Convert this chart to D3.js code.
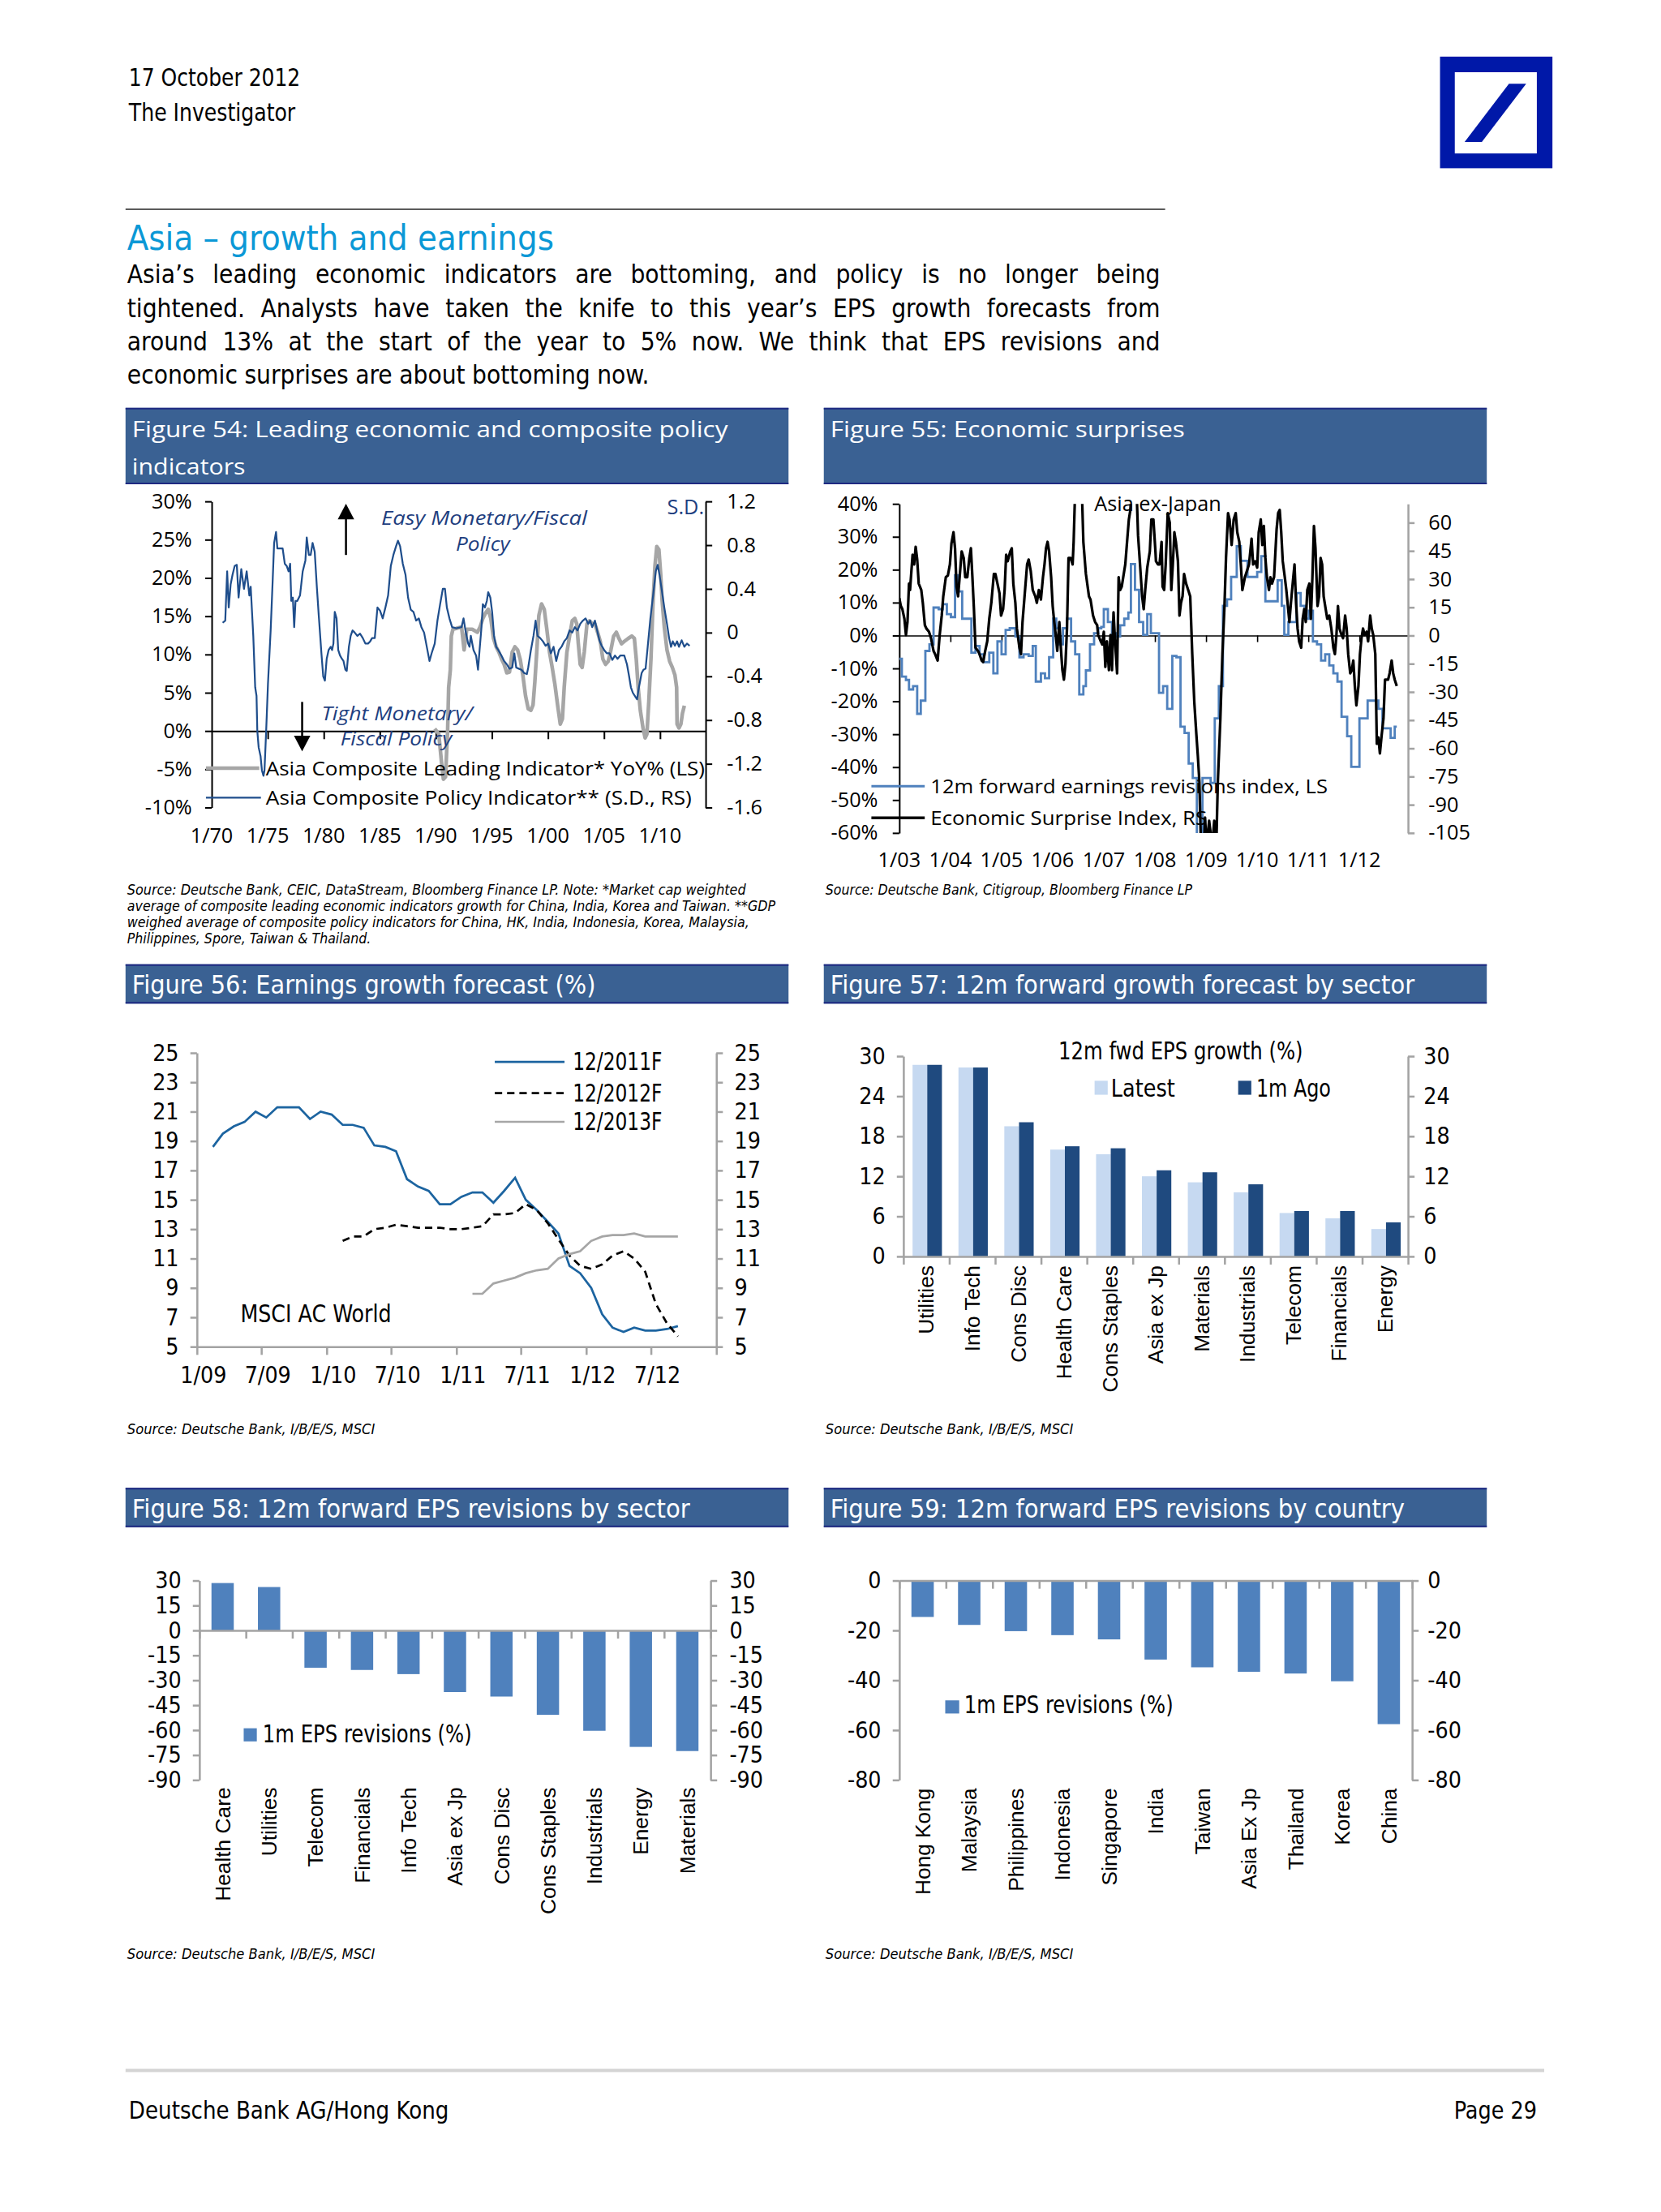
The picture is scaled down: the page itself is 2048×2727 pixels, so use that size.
<!DOCTYPE html>
<html lang="en">
<head>
<meta charset="UTF-8">
<title>Asia – growth and earnings</title>
<script src="https://d3js.org/d3.v7.min.js"></script>
<style>
  body { margin: 0; background: #fff; }
  svg { display: block; }
</style>
</head>
<body>
<svg id="page" width="2048" height="2727"></svg>
<script>
// ---------- Figure 54: leading indicator (grey, YoY %, LS) and policy indicator (navy, S.D., RS)
const policyIndicator = [[1970.98,0.09],[1971.21,0.11],[1971.38,0.56],[1971.52,0.23],[1971.69,0.44],[1971.86,0.53],[1972.05,0.61],[1972.24,0.62],[1972.40,0.32],[1972.64,0.58],[1972.88,0.40],[1973.12,0.56],[1973.36,0.34],[1973.48,0.42],[1973.71,-0.03],[1973.88,-0.50],[1974.00,-0.58],[1974.07,-0.90],[1974.19,-1.05],[1974.36,-1.13],[1974.48,-1.26],[1974.62,-1.31],[1974.71,-1.26],[1974.86,-0.90],[1975.02,-0.47],[1975.26,0.02],[1975.45,0.50],[1975.57,0.82],[1975.74,0.92],[1975.86,0.77],[1976.10,0.77],[1976.33,0.77],[1976.52,0.63],[1976.69,0.61],[1976.86,0.56],[1977.00,0.63],[1977.10,0.29],[1977.24,0.32],[1977.36,0.05],[1977.48,0.29],[1977.64,0.29],[1977.88,0.34],[1978.12,0.56],[1978.36,0.66],[1978.48,0.87],[1978.67,0.71],[1978.83,0.71],[1979.00,0.82],[1979.19,0.74],[1979.38,0.42],[1979.55,0.16],[1979.79,-0.19],[1979.95,-0.40],[1980.10,-0.44],[1980.26,-0.24],[1980.43,-0.16],[1980.62,-0.13],[1980.74,-0.16],[1980.86,-0.10],[1980.98,0.19],[1981.14,0.13],[1981.29,-0.16],[1981.45,-0.21],[1981.62,-0.24],[1981.76,-0.26],[1981.93,-0.34],[1982.05,-0.35],[1982.24,-0.13],[1982.40,-0.03],[1982.57,0.02],[1982.76,0.00],[1983.00,-0.03],[1983.24,-0.01],[1983.48,-0.05],[1983.71,-0.10],[1983.95,-0.10],[1984.14,-0.08],[1984.31,-0.05],[1984.55,-0.05],[1984.79,0.23],[1985.02,0.20],[1985.26,0.13],[1985.50,0.23],[1985.74,0.34],[1985.98,0.61],[1986.21,0.71],[1986.45,0.79],[1986.62,0.84],[1986.81,0.79],[1987.05,0.63],[1987.29,0.53],[1987.52,0.32],[1987.76,0.21],[1988.00,0.19],[1988.24,0.11],[1988.48,0.13],[1988.71,0.05],[1988.95,0.00],[1989.19,-0.13],[1989.43,-0.26],[1989.62,-0.19],[1989.90,-0.10],[1990.14,0.11],[1990.38,0.26],[1990.62,0.40],[1990.81,0.40],[1990.98,0.23],[1991.21,0.13],[1991.45,0.05],[1991.81,0.04],[1992.29,0.05],[1992.47,0.13],[1992.64,0.02],[1992.88,-0.10],[1993.00,-0.13],[1993.12,-0.03],[1993.36,-0.16],[1993.59,-0.21],[1993.76,-0.34],[1993.90,-0.16],[1994.07,0.05],[1994.19,0.26],[1994.38,0.23],[1994.55,0.29],[1994.67,0.37],[1994.86,0.32],[1995.02,0.19],[1995.19,-0.03],[1995.38,-0.13],[1995.57,-0.16],[1995.74,-0.19],[1995.90,-0.22],[1996.09,-0.26],[1996.33,-0.29],[1996.57,-0.33],[1996.81,-0.32],[1997.00,-0.19],[1997.17,-0.32],[1997.40,-0.33],[1997.64,-0.34],[1997.88,-0.37],[1998.12,-0.38],[1998.24,-0.32],[1998.48,-0.16],[1998.71,-0.03],[1998.90,0.11],[1999.07,-0.03],[1999.31,-0.05],[1999.55,-0.08],[1999.79,-0.12],[2000.02,-0.10],[2000.26,-0.19],[2000.50,-0.13],[2000.74,-0.26],[2000.98,-0.16],[2001.21,-0.13],[2001.45,-0.08],[2001.69,-0.05],[2001.93,0.02],[2002.17,0.00],[2002.40,0.05],[2002.64,0.02],[2002.88,0.08],[2003.12,0.11],[2003.36,0.13],[2003.59,0.08],[2003.76,0.11],[2003.95,0.05],[2004.19,0.11],[2004.43,0.00],[2004.62,-0.08],[2004.79,-0.12],[2005.02,-0.16],[2005.26,-0.19],[2005.50,-0.19],[2005.74,-0.25],[2005.98,-0.21],[2006.21,-0.24],[2006.45,-0.21],[2006.81,-0.21],[2007.05,-0.29],[2007.24,-0.40],[2007.40,-0.50],[2007.57,-0.55],[2007.76,-0.58],[2007.95,-0.61],[2008.12,-0.50],[2008.36,-0.37],[2008.52,-0.34],[2008.71,-0.33],[2008.90,-0.13],[2009.14,0.13],[2009.38,0.34],[2009.62,0.56],[2009.79,0.62],[2009.95,0.53],[2010.14,0.40],[2010.38,0.23],[2010.62,0.08],[2010.81,-0.05],[2010.98,-0.13],[2011.14,-0.08],[2011.33,-0.12],[2011.52,-0.08],[2011.69,-0.13],[2011.93,-0.07],[2012.17,-0.13],[2012.40,-0.10],[2012.64,-0.12]];
const leadingIndicator = [[1989.90,0.3],[1990.26,-0.4],[1990.50,-4.0],[1990.67,-6.3],[1990.86,-6.0],[1991.05,0.1],[1991.14,5.7],[1991.29,8.0],[1991.38,12.4],[1991.52,13.3],[1991.81,13.4],[1992.29,13.6],[1992.52,10.6],[1992.76,13.3],[1993.24,13.3],[1993.71,12.9],[1993.95,13.6],[1994.19,14.7],[1994.43,15.4],[1994.67,15.9],[1994.90,14.7],[1995.14,12.1],[1995.38,11.0],[1995.62,10.3],[1995.86,9.4],[1996.09,8.7],[1996.33,7.6],[1996.57,7.7],[1996.81,10.3],[1997.05,11.0],[1997.29,10.6],[1997.52,9.4],[1997.76,7.3],[1998.00,4.6],[1998.24,2.9],[1998.48,2.7],[1998.67,3.4],[1998.83,6.4],[1999.00,10.3],[1999.19,15.1],[1999.43,16.6],[1999.67,15.9],[1999.90,13.3],[2000.14,10.3],[2000.38,8.3],[2000.62,6.1],[2000.86,3.4],[2001.10,0.9],[2001.29,1.6],[2001.45,5.7],[2001.69,10.3],[2001.93,12.4],[2002.17,14.4],[2002.40,14.7],[2002.57,14.0],[2002.71,11.4],[2002.88,8.7],[2003.05,8.3],[2003.24,10.3],[2003.48,14.0],[2003.71,14.4],[2003.95,14.0],[2004.19,14.0],[2004.43,12.9],[2004.67,11.7],[2004.90,9.4],[2005.14,8.7],[2005.38,9.1],[2005.62,10.6],[2005.86,12.4],[2006.10,12.9],[2006.33,12.1],[2006.57,11.4],[2006.81,11.7],[2007.17,12.1],[2007.48,12.4],[2007.71,12.1],[2007.88,9.4],[2008.05,5.7],[2008.24,2.7],[2008.48,0.4],[2008.67,-0.9],[2008.83,-0.4],[2009.00,3.9],[2009.19,9.4],[2009.38,17.0],[2009.55,21.6],[2009.71,24.1],[2009.90,23.7],[2010.05,20.7],[2010.19,17.0],[2010.38,13.6],[2010.62,10.6],[2010.86,9.1],[2011.10,8.3],[2011.33,7.3],[2011.48,5.7],[2011.52,0.9],[2011.69,0.4],[2011.86,0.9],[2012.00,2.3],[2012.17,3.3]];
const pctTicks54 = [-10, -5, 0, 5, 10, 15, 20, 25, 30];
const sdTicks54 = [-1.6, -1.2, -0.8, -0.4, 0, 0.4, 0.8, 1.2];
const sdLabels54 = ["-1.6", "-1.2", "-0.8", "-0.4", "0", "0.4", "0.8", "1.2"];
const yearTicks54 = [1970, 1975, 1980, 1985, 1990, 1995, 2000, 2005, 2010];
const yearLabels54 = ["1/70", "1/75", "1/80", "1/85", "1/90", "1/95", "1/00", "1/05", "1/10"];

// ---------- Figure 55: earnings revisions (blue, step, LS %) and economic surprise (black, RS)
const revisionsIdx = [[2003.00,-7.1],[2003.05,-12.5],[2003.13,-13.5],[2003.19,-16.4],[2003.27,-15.4],[2003.35,-23.8],[2003.42,-19.8],[2003.51,-4.7],[2003.59,-2.7],[2003.67,8.5],[2003.77,8.0],[2003.85,9.5],[2003.93,6.5],[2004.01,5.6],[2004.09,18.3],[2004.15,13.4],[2004.23,5.1],[2004.41,-5.2],[2004.49,-3.2],[2004.57,-5.7],[2004.65,-8.1],[2004.76,-5.2],[2004.84,-11.5],[2004.92,-1.8],[2005.00,-5.7],[2005.08,1.7],[2005.16,2.2],[2005.27,-0.3],[2005.35,-6.6],[2005.43,-5.7],[2005.53,-6.2],[2005.61,-3.2],[2005.67,-14.0],[2005.77,-11.5],[2005.85,-13.0],[2005.93,-6.6],[2006.01,5.1],[2006.07,2.2],[2006.12,-2.7],[2006.20,2.2],[2006.28,5.1],[2006.36,-1.8],[2006.44,-5.7],[2006.52,-17.9],[2006.60,-15.4],[2006.65,-10.6],[2006.73,-2.7],[2006.81,0.7],[2006.89,2.2],[2006.95,2.6],[2007.00,8.0],[2007.08,4.1],[2007.16,0.7],[2007.24,-0.3],[2007.32,3.1],[2007.40,5.1],[2007.48,7.0],[2007.53,21.7],[2007.61,13.9],[2007.69,4.1],[2007.77,0.2],[2007.85,6.5],[2007.92,0.7],[2008.08,-17.4],[2008.16,-15.4],[2008.24,-22.3],[2008.34,-6.2],[2008.42,-6.6],[2008.50,-27.7],[2008.58,-29.6],[2008.66,-38.9],[2008.74,-43.3],[2008.82,-62],[2008.93,-43.3],[2009.09,-44.8],[2009.17,-25.2],[2009.25,-15.4],[2009.33,9.0],[2009.41,11.0],[2009.49,17.8],[2009.60,27.1],[2009.68,22.7],[2009.81,17.8],[2010.00,19.3],[2010.08,24.1],[2010.16,10.4],[2010.40,16.8],[2010.48,9.0],[2010.53,0.2],[2010.61,4.1],[2010.77,12.9],[2010.85,9.0],[2010.93,5.1],[2011.01,7.5],[2011.09,-1.8],[2011.17,-2.7],[2011.25,-7.6],[2011.33,-5.7],[2011.41,-9.1],[2011.49,-11.5],[2011.57,-14.0],[2011.65,-24.7],[2011.76,-30.6],[2011.84,-39.9],[2012.00,-25.2],[2012.16,-19.8],[2012.37,-22.3],[2012.45,-28.2],[2012.61,-31.1],[2012.69,-27.7],[2012.73,-27.7]];
const surpriseIdx = [[2003.00,19.9],[2003.03,15.7],[2003.06,14.0],[2003.10,8.9],[2003.13,0.3],[2003.16,7.2],[2003.19,27.6],[2003.21,24.2],[2003.26,43.0],[2003.29,37.8],[2003.32,47.2],[2003.35,40.4],[2003.38,27.6],[2003.43,24.2],[2003.46,17.4],[2003.50,5.5],[2003.53,3.7],[2003.58,2.0],[2003.62,-1.4],[2003.67,-8.2],[2003.70,-9.9],[2003.75,-13.3],[2003.79,0.3],[2003.83,10.6],[2003.86,20.8],[2003.91,31.0],[2003.95,31.9],[2003.99,37.8],[2004.02,48.9],[2004.06,54.9],[2004.09,46.4],[2004.12,25.9],[2004.15,20.8],[2004.18,31.0],[2004.22,44.7],[2004.26,41.2],[2004.29,31.0],[2004.33,31.0],[2004.37,41.2],[2004.40,46.4],[2004.43,31.0],[2004.46,14.0],[2004.49,-6.5],[2004.54,-8.2],[2004.57,-9.9],[2004.61,-13.3],[2004.64,-14.1],[2004.68,-8.2],[2004.72,-3.1],[2004.76,8.9],[2004.80,17.4],[2004.85,32.7],[2004.88,32.7],[2004.92,27.6],[2004.96,22.5],[2004.99,10.6],[2005.03,14.0],[2005.06,24.2],[2005.09,43.0],[2005.12,39.5],[2005.17,44.7],[2005.20,46.4],[2005.23,27.6],[2005.27,17.4],[2005.30,3.7],[2005.35,-6.5],[2005.38,-9.9],[2005.41,7.2],[2005.45,20.8],[2005.50,37.8],[2005.53,40.4],[2005.57,34.4],[2005.61,24.2],[2005.66,20.8],[2005.69,17.4],[2005.73,24.2],[2005.77,19.1],[2005.81,31.0],[2005.84,37.8],[2005.87,46.4],[2005.90,49.8],[2005.93,44.7],[2005.97,31.0],[2006.00,15.7],[2006.03,7.2],[2006.06,0.3],[2006.09,-8.2],[2006.13,7.2],[2006.16,-6.5],[2006.19,-18.4],[2006.22,-23.5],[2006.25,-15.0],[2006.28,3.7],[2006.31,41.2],[2006.35,41.2],[2006.39,37.8],[2006.41,49.8],[2006.44,78],[2006.49,78],[2006.57,78],[2006.60,49.8],[2006.65,32.7],[2006.71,20.8],[2006.74,19.1],[2006.79,10.6],[2006.83,7.2],[2006.87,5.5],[2006.89,0.3],[2006.94,-3.1],[2006.97,-4.8],[2007.00,2.0],[2007.03,-16.7],[2007.06,-3.1],[2007.10,-18.4],[2007.13,0.3],[2007.16,-18.4],[2007.19,12.3],[2007.22,-3.1],[2007.26,-20.1],[2007.29,31.0],[2007.32,24.2],[2007.35,25.9],[2007.38,31.0],[2007.42,37.8],[2007.45,48.1],[2007.49,61.7],[2007.52,66.8],[2007.54,78],[2007.59,78],[2007.64,78],[2007.67,53.2],[2007.70,41.2],[2007.75,20.8],[2007.78,14.0],[2007.81,24.2],[2007.85,36.1],[2007.90,44.7],[2007.93,61.7],[2007.97,61.7],[2008.01,44.7],[2008.02,39.5],[2008.06,37.8],[2008.09,37.8],[2008.13,49.8],[2008.15,25.9],[2008.18,24.2],[2008.21,37.8],[2008.25,65.1],[2008.29,60.0],[2008.32,24.2],[2008.35,37.8],[2008.38,54.9],[2008.41,49.8],[2008.45,39.5],[2008.48,10.6],[2008.51,17.4],[2008.54,20.8],[2008.57,32.7],[2008.61,27.6],[2008.65,24.2],[2008.69,20.8],[2008.73,-9.9],[2008.77,-35.5],[2008.81,-52.5],[2008.84,-64.4],[2008.87,-78.1],[2008.90,-112],[2008.96,-112],[2008.98,-96.8],[2009.01,-112],[2009.06,-98.5],[2009.12,-112],[2009.16,-98.5],[2009.20,-112],[2009.23,-78.1],[2009.28,-44.0],[2009.32,-9.9],[2009.36,15.7],[2009.39,41.2],[2009.43,65.1],[2009.46,61.7],[2009.50,48.1],[2009.54,61.7],[2009.58,65.1],[2009.61,54.9],[2009.65,49.8],[2009.68,37.8],[2009.71,24.2],[2009.76,31.0],[2009.80,34.4],[2009.84,37.8],[2009.89,51.5],[2009.92,37.8],[2009.96,39.5],[2010.00,36.1],[2010.03,54.9],[2010.07,61.7],[2010.10,48.1],[2010.13,58.3],[2010.16,41.2],[2010.19,31.0],[2010.23,24.2],[2010.26,31.0],[2010.29,27.6],[2010.33,31.0],[2010.38,56.6],[2010.41,65.1],[2010.44,66.8],[2010.47,54.9],[2010.50,39.5],[2010.54,31.0],[2010.57,24.2],[2010.60,15.7],[2010.63,7.2],[2010.66,17.4],[2010.70,29.3],[2010.73,37.8],[2010.76,17.4],[2010.79,3.7],[2010.82,-3.1],[2010.86,-6.5],[2010.89,8.9],[2010.92,14.0],[2010.95,7.2],[2010.98,24.2],[2011.02,27.6],[2011.05,8.9],[2011.08,31.0],[2011.11,58.3],[2011.14,46.4],[2011.18,15.7],[2011.21,20.8],[2011.24,41.2],[2011.27,37.8],[2011.30,20.8],[2011.34,14.0],[2011.37,8.9],[2011.41,10.6],[2011.45,3.7],[2011.49,-6.5],[2011.52,-9.9],[2011.55,0.3],[2011.58,15.7],[2011.61,3.7],[2011.65,0.3],[2011.68,-1.4],[2011.72,10.6],[2011.75,3.7],[2011.78,-9.9],[2011.82,-20.1],[2011.85,-18.4],[2011.88,-13.3],[2011.91,-26.9],[2011.94,-37.2],[2011.98,-26.9],[2012.01,-9.9],[2012.04,-1.4],[2012.07,3.7],[2012.10,0.3],[2012.14,2.0],[2012.17,-3.1],[2012.21,10.6],[2012.24,3.7],[2012.27,0.3],[2012.31,-9.9],[2012.34,-57.6],[2012.37,-54.2],[2012.40,-62.7],[2012.43,-54.2],[2012.47,-44.0],[2012.50,-23.5],[2012.53,-23.5],[2012.56,-23.5],[2012.59,-20.1],[2012.63,-13.3],[2012.66,-20.1],[2012.69,-23.5],[2012.73,-26.9]];
const pctTicks55 = [-60, -50, -40, -30, -20, -10, 0, 10, 20, 30, 40];
const rsTicks55 = [-105, -90, -75, -60, -45, -30, -15, 0, 15, 30, 45, 60];
const yearTicks55 = [2003, 2004, 2005, 2006, 2007, 2008, 2009, 2010, 2011, 2012];
const yearLabels55 = ["1/03", "1/04", "1/05", "1/06", "1/07", "1/08", "1/09", "1/10", "1/11", "1/12"];

// ---------- Figure 56: earnings growth forecast (%), monthly
const months56 = ["2009-02","2009-03","2009-04","2009-05","2009-06","2009-07","2009-08","2009-09","2009-10","2009-11","2009-12",
  "2010-01","2010-02","2010-03","2010-04","2010-05","2010-06","2010-07","2010-08","2010-09","2010-10","2010-11","2010-12",
  "2011-01","2011-02","2011-03","2011-04","2011-05","2011-06","2011-07","2011-08","2011-09","2011-10","2011-11","2011-12",
  "2012-01","2012-02","2012-03","2012-04","2012-05","2012-06","2012-07","2012-08","2012-09"];
const fc2011 = [18.6,19.5,20.0,20.3,21.0,20.6,21.3,21.3,21.3,20.5,21.0,20.8,20.1,20.1,19.9,18.7,18.6,18.3,16.4,15.9,15.6,14.7,14.7,15.2,15.5,15.5,14.8,15.6,16.5,15.0,14.3,13.5,12.7,10.5,10.0,9.0,7.2,6.3,6.0,6.3,6.1,6.1,6.2,6.4];
const fc2012 = [null,null,null,null,null,null,null,null,null,null,null,null,
  12.2,12.5,12.5,13.0,13.1,13.3,13.2,13.1,13.1,13.1,13.0,13.0,13.1,13.2,14.0,14.0,14.1,14.7,14.3,13.4,12.3,11.2,10.5,10.3,10.6,11.2,11.5,11.0,10.1,7.9,6.6,5.7];
const fc2013 = [null,null,null,null,null,null,null,null,null,null,null,null,null,null,null,null,null,null,null,null,null,null,null,null,
  8.6,8.6,9.3,9.5,9.7,10.0,10.2,10.3,11.0,11.3,11.5,12.2,12.5,12.6,12.6,12.7,12.5,12.5,12.5,12.5];
const ticks56 = [5, 7, 9, 11, 13, 15, 17, 19, 21, 23, 25];
const xTicks56 = ["2009-01","2009-07","2010-01","2010-07","2011-01","2011-07","2012-01","2012-07","2013-01"];
const xLabels56 = ["1/09","7/09","1/10","7/10","1/11","7/11","1/12","7/12"];

// ---------- Figure 57: 12m fwd EPS growth by sector
const sectors57 = ["Utilities","Info Tech","Cons Disc","Health Care","Cons Staples","Asia ex Jp","Materials","Industrials","Telecom","Financials","Energy"];
const latest57 = [28.7, 28.3, 19.5, 16.0, 15.3, 12.0, 11.1, 9.6, 6.5, 5.7, 4.1];
const ago57 = [28.7, 28.3, 20.1, 16.5, 16.2, 12.9, 12.6, 10.8, 6.8, 6.8, 5.1];
const ticks57 = [0, 6, 12, 18, 24, 30];

// ---------- Figure 58: 1m EPS revisions by sector
const sectors58 = ["Health Care","Utilities","Telecom","Financials","Info Tech","Asia ex Jp","Cons Disc","Cons Staples","Industrials","Energy","Materials"];
const rev58 = [28.5, 26.1, -22.5, -23.8, -26.3, -37.1, -39.8, -50.8, -60.4, -70.1, -72.6];
const ticks58 = [-90, -75, -60, -45, -30, -15, 0, 15, 30];

// ---------- Figure 59: 1m EPS revisions by country
const countries59 = ["Hong Kong","Malaysia","Philippines","Indonesia","Singapore","India","Taiwan","Asia Ex Jp","Thailand","Korea","China"];
const rev59 = [-14.6, -17.8, -20.3, -21.9, -23.6, -31.7, -34.8, -36.6, -37.3, -40.4, -57.6];
const ticks59 = [-80, -60, -40, -20, 0];

// ---------- page text
const paragraph = [
  "Asia\u2019s leading economic indicators are bottoming, and policy is no longer being",
  "tightened. Analysts have taken the knife to this year\u2019s EPS growth forecasts from",
  "around 13% at the start of the year to 5% now. We think that EPS revisions and",
  "economic surprises are about bottoming now."
];
const note54 = [
  "Source: Deutsche Bank, CEIC, DataStream, Bloomberg Finance LP. Note: *Market cap weighted",
  "average of composite leading economic indicators growth for China, India, Korea and Taiwan. **GDP",
  "weighed average of composite policy indicators for China, HK, India, Indonesia, Korea, Malaysia,",
  "Philippines, Spore, Taiwan & Thailand."
];

const NARROW = '"Liberation Sans Narrow", "Arial Narrow", "DejaVu Sans Condensed", sans-serif';
const WIDE = '"Open Sans", "DejaVu Sans", sans-serif';
const ARIAL = '"Liberation Sans", Arial, sans-serif';
const BAR = "#3a6193", BAR_EDGE = "#1f2a82";
const AXIS_GREY = "#a3a3a3";
const plain = d => String(d);   // hyphen-minus like the original, not U+2212

const root = d3.select("#page");
root.append("rect").attr("width", 2048).attr("height", 2727).attr("fill", "#fff");
const svg = root.append("g").attr("transform", "scale(1.0117)");

function txt(x, y, s, family, size, opts = {}) {
  const t = svg.append("text").attr("x", x).attr("y", y)
    .attr("font-family", family).attr("font-size", size)
    .attr("fill", opts.fill || "#000").text(s);
  if (opts.anchor) t.attr("text-anchor", opts.anchor);
  if (opts.italic) t.attr("font-style", "italic");
  if (opts.len) t.attr("textLength", opts.len).attr("lengthAdjust", "spacingAndGlyphs");
  return t;
}

function styleAxis(g, color, width, family, size) {
  g.attr("font-family", family).attr("font-size", size);
  g.select(".domain").attr("stroke", color).attr("stroke-width", width);
  g.selectAll(".tick line").attr("stroke", color).attr("stroke-width", width);
  g.selectAll(".tick text").attr("fill", "#000");
  return g;
}

function titleBar(x, y, w, h, lines, family, size, lens, baselines) {
  svg.append("rect").attr("x", x).attr("y", y).attr("width", w).attr("height", h).attr("fill", BAR);
  [y + 1, y + h - 1].forEach(ly => svg.append("line").attr("x1", x).attr("x2", x + w)
    .attr("y1", ly).attr("y2", ly).attr("stroke", BAR_EDGE).attr("stroke-width", 2));
  lines.forEach((s, i) => txt(x + 8, baselines[i], s, family, size, { fill: "#fff", len: lens[i] }));
}

// ---------- header
txt(157, 105, "17 October 2012", NARROW, 29, { len: 209 });
txt(157, 147, "The Investigator", NARROW, 29, { len: 203 });
svg.append("rect").attr("x", 1755).attr("y", 69).attr("width", 137).attr("height", 136).attr("fill", "#0018a8");
svg.append("rect").attr("x", 1773).attr("y", 88).attr("width", 100).attr("height", 99).attr("fill", "#fff");
svg.append("path").attr("d", "M1785,173 L1806,173 L1860,102 L1839,102 Z").attr("fill", "#0018a8");

svg.append("line").attr("x1", 153).attr("x2", 1420).attr("y1", 255).attr("y2", 255)
  .attr("stroke", "#5a5a5a").attr("stroke-width", 2);
txt(155, 304, "Asia \u2013 growth and earnings", NARROW, 42, { fill: "#0b98d6", len: 520 });

// justified paragraph: spread the spare room between words
(function () {
  const x0 = 155, x1 = 1414, top = 345, lh = 41;
  let size = 31;
  const g = svg.append("g").attr("font-family", NARROW).attr("fill", "#000");
  const measure = () => paragraph.map(line => line.split(" ").map(w => {
    const t = g.append("text").attr("font-size", size).text(w);
    const wd = t.node().getComputedTextLength(); t.remove(); return wd;
  }));
  let widths = measure();
  const need = d3.max(widths.slice(0, 3), ws => d3.sum(ws) + (ws.length - 1) * size * 0.18);
  if (need > x1 - x0) { size = size * (x1 - x0) / need; widths = measure(); }
  paragraph.forEach((line, li) => {
    const words = line.split(" ");
    const ws = widths[li];
    const last = li === paragraph.length - 1;
    const gap = last ? size * 0.27 : (x1 - x0 - d3.sum(ws)) / (words.length - 1);
    let x = x0;
    words.forEach((w, i) => {
      g.append("text").attr("x", x).attr("y", top + li * lh).attr("font-size", size).text(w);
      x += ws[i] + gap;
    });
  });
})();

// ---------- title bars
titleBar(153, 497, 808, 93, ["Figure 54: Leading economic and composite policy", "indicators"], WIDE, 27, [726, 138], [533, 578]);
titleBar(1004, 497, 808, 93, ["Figure 55: Economic surprises"], WIDE, 27, [432], [533]);
titleBar(153, 1175, 808, 48, ["Figure 56: Earnings growth forecast (%)"], NARROW, 31, [565], [1211]);
titleBar(1004, 1175, 808, 48, ["Figure 57: 12m forward growth forecast by sector"], NARROW, 31, [712], [1211]);
titleBar(153, 1813, 808, 48, ["Figure 58: 12m forward EPS revisions by sector"], NARROW, 31, [680], [1849]);
titleBar(1004, 1813, 808, 48, ["Figure 59: 12m forward EPS revisions by country"], NARROW, 31, [700], [1849]);

// ---------- sources
[754, 790, 758, 297].forEach((len, i) => txt(155, 1090 + i * 20, note54[i], NARROW, 17, { italic: true, len }));
txt(1006, 1090, "Source: Deutsche Bank, Citigroup, Bloomberg Finance LP", NARROW, 17, { italic: true, len: 447 });
txt(155, 1748, "Source: Deutsche Bank, I/B/E/S, MSCI", NARROW, 17, { italic: true, len: 302 });
txt(1006, 1748, "Source: Deutsche Bank, I/B/E/S, MSCI", NARROW, 17, { italic: true, len: 302 });
txt(155, 2387, "Source: Deutsche Bank, I/B/E/S, MSCI", NARROW, 17, { italic: true, len: 302 });
txt(1006, 2387, "Source: Deutsche Bank, I/B/E/S, MSCI", NARROW, 17, { italic: true, len: 302 });

// ---------- footer
svg.append("line").attr("x1", 153).attr("x2", 1882).attr("y1", 2523).attr("y2", 2523)
  .attr("stroke", "#d4d4d4").attr("stroke-width", 4);
txt(157, 2582, "Deutsche Bank AG/Hong Kong", NARROW, 29, { len: 390 });
txt(1873, 2582, "Page 29", NARROW, 29, { anchor: "end", len: 101 });

// ================= Figure 54 =================
(function () {
  const x = d3.scaleLinear().domain([1970, 2014.07]).range([258, 860]);
  const yL = d3.scaleLinear().domain([-10, 30]).range([984, 611]);
  const yR = d3.scaleLinear().domain([-1.6, 1.2]).range([984, 611]);
  const g = svg.append("g");

  styleAxis(g.append("g").attr("transform", `translate(0,${yL(0)})`)
    .call(d3.axisBottom(x).tickValues(yearTicks54.slice(1)).tickSize(10).tickSizeOuter(0).tickFormat("")), "#000", 2, WIDE, 25);
  styleAxis(g.append("g").attr("transform", "translate(258,0)")
    .call(d3.axisLeft(yL).tickValues(pctTicks54).tickFormat(d => d + "%").tickSize(8).tickSizeOuter(0).tickPadding(16)), "#000", 2, WIDE, 25);
  styleAxis(g.append("g").attr("transform", "translate(860,0)")
    .call(d3.axisRight(yR).tickValues(sdTicks54).tickFormat((d, i) => sdLabels54[i]).tickSize(8).tickSizeOuter(0).tickPadding(18)), "#000", 2, WIDE, 25);

  yearTicks54.forEach((yr, i) => txt(x(yr), 1027, yearLabels54[i], WIDE, 25, { anchor: "middle" }));
  txt(858, 627, "S.D.", WIDE, 25, { anchor: "end", fill: "#1f3f7f" });

  // annotations
  const navy = "#1f3f7f";
  const arrow = (xv, from, to) => {
    const x0 = x(xv), y0 = yL(from), y1 = yL(to), dir = y1 < y0 ? 1 : -1;
    g.append("line").attr("x1", x0).attr("x2", x0).attr("y1", y0).attr("y2", y1 + dir * 16).attr("stroke", "#000").attr("stroke-width", 2.5);
    g.append("path").attr("d", `M${x0},${y1} L${x0 - 10},${y1 + dir * 19} L${x0 + 10},${y1 + dir * 19} Z`).attr("fill", "#000");
  };
  arrow(1981.98, 23.0, 29.7);
  arrow(1978.07, 3.8, -2.65);
  txt(x(1985.12), yL(26.9), "Easy Monetary/Fiscal", WIDE, 24, { italic: true, fill: navy, len: 251 });
  txt(x(1994.19), yL(23.6), "Policy", WIDE, 24, { italic: true, fill: navy, anchor: "middle", len: 66 });
  txt(x(1979.81), yL(1.4), "Tight Monetary/", WIDE, 24, { italic: true, fill: navy, len: 184 });
  txt(x(1981.49), yL(-1.9), "Fiscal Policy", WIDE, 24, { italic: true, fill: navy, len: 136 });

  // legend (drawn under the lines)
  g.append("line").attr("x1", 251).attr("x2", 316).attr("y1", 936).attr("y2", 936).attr("stroke", "#a6a6a6").attr("stroke-width", 4.5);
  txt(324, 945, "Asia Composite Leading Indicator* YoY% (LS)", WIDE, 24, { len: 535 });
  g.append("line").attr("x1", 251).attr("x2", 318).attr("y1", 972).attr("y2", 972).attr("stroke", "#1f4e8c").attr("stroke-width", 2.2);
  txt(324, 981, "Asia Composite Policy Indicator** (S.D., RS)", WIDE, 24, { len: 519 });

  g.append("path").datum(leadingIndicator)
    .attr("d", d3.line().x(d => x(d[0])).y(d => yL(d[1])))
    .attr("fill", "none").attr("stroke", "#a6a6a6").attr("stroke-width", 4.5).attr("stroke-linejoin", "round");
  g.append("path").datum(policyIndicator)
    .attr("d", d3.line().x(d => x(d[0])).y(d => yR(d[1])))
    .attr("fill", "none").attr("stroke", "#1f4e8c").attr("stroke-width", 2.2).attr("stroke-linejoin", "round");
})();

// ================= Figure 55 =================
(function () {
  const x = d3.scaleLinear().domain([2003, 2012.95]).range([1096, 1716]);
  const yL = d3.scaleLinear().domain([-60, 40]).range([1015, 614]);
  const yR = d3.scaleLinear().domain([-105, 70]).range([1015, 614]);
  const g = svg.append("g");
  svg.append("clipPath").attr("id", "clip55").append("rect")
    .attr("x", 1096).attr("y", 614).attr("width", 620).attr("height", 401);

  styleAxis(g.append("g").attr("transform", `translate(0,${yL(0)})`)
    .call(d3.axisBottom(x).tickValues(yearTicks55.slice(1)).tickSize(8).tickSizeOuter(0).tickFormat("")), "#000", 1.6, WIDE, 25);
  styleAxis(g.append("g").attr("transform", "translate(1096,0)")
    .call(d3.axisLeft(yL).tickValues(pctTicks55).tickFormat(d => d + "%").tickSize(8).tickSizeOuter(0).tickPadding(18)), "#000", 2, WIDE, 25);
  styleAxis(g.append("g").attr("transform", "translate(1716,0)")
    .call(d3.axisRight(yR).tickValues(rsTicks55).tickFormat(plain).tickSize(8).tickSizeOuter(0).tickPadding(17)), AXIS_GREY, 2.5, WIDE, 25);

  yearTicks55.forEach((yr, i) => txt(x(yr), 1057, yearLabels55[i], WIDE, 25, { anchor: "middle" }));
  txt(1411, 623, "Asia ex-Japan", WIDE, 25, { anchor: "middle" });

  g.append("line").attr("x1", 1062).attr("x2", 1127).attr("y1", yL(-45.8)).attr("y2", yL(-45.8)).attr("stroke", "#4f81bd").attr("stroke-width", 3);
  txt(1134, yL(-45.8) + 9, "12m forward earnings revisions index, LS", WIDE, 24, { len: 484 });
  g.append("line").attr("x1", 1062).attr("x2", 1127).attr("y1", yL(-55.4)).attr("y2", yL(-55.4)).attr("stroke", "#000").attr("stroke-width", 3.5);
  txt(1134, yL(-55.4) + 9, "Economic Surprise Index, RS", WIDE, 24, { len: 337 });

  const plot = g.append("g").attr("clip-path", "url(#clip55)");
  plot.append("path").datum(revisionsIdx)
    .attr("d", d3.line().curve(d3.curveStepAfter).x(d => x(d[0])).y(d => yL(d[1])))
    .attr("fill", "none").attr("stroke", "#4f81bd").attr("stroke-width", 2.8);
  plot.append("path").datum(surpriseIdx)
    .attr("d", d3.line().x(d => x(d[0])).y(d => yR(d[1])))
    .attr("fill", "none").attr("stroke", "#000").attr("stroke-width", 3.2).attr("stroke-linejoin", "round");
})();

// ================= Figure 56 =================
(function () {
  const parse = s => new Date(+s.slice(0, 4), +s.slice(5, 7) - 1, 15);
  const parseTick = s => new Date(+s.slice(0, 4), +s.slice(5, 7) - 1, 1);
  const x = d3.scaleTime().domain([parseTick("2009-01"), parseTick("2013-01")]).range([240, 873]);
  const y = d3.scaleLinear().domain([5, 25]).range([1641, 1283]);
  const g = svg.append("g");

  styleAxis(g.append("g").attr("transform", "translate(240,0)")
    .call(d3.axisLeft(y).tickValues(ticks56).tickSize(8).tickSizeOuter(0).tickPadding(14)), AXIS_GREY, 2.5, NARROW, 28);
  styleAxis(g.append("g").attr("transform", "translate(873,0)")
    .call(d3.axisRight(y).tickValues(ticks56).tickSize(8).tickSizeOuter(0).tickPadding(14)), AXIS_GREY, 2.5, NARROW, 28);
  styleAxis(g.append("g").attr("transform", `translate(0,${y(5)})`)
    .call(d3.axisBottom(x).tickValues(xTicks56.map(parseTick)).tickSize(10).tickSizeOuter(0).tickFormat("")), AXIS_GREY, 2.5, NARROW, 28);
  xLabels56.forEach((s, i) => txt(x(parseTick(xTicks56[i])) + 8, 1685, s, NARROW, 28, { anchor: "middle" }));

  const dates = months56.map(parse);
  const line = d3.line().defined(d => d[1] != null).x(d => x(d[0])).y(d => y(d[1]));
  const series = [
    { vals: fc2011, stroke: "#1c64a0", dash: null, name: "12/2011F" },
    { vals: fc2012, stroke: "#000", dash: "9,6", name: "12/2012F" },
    { vals: fc2013, stroke: "#a6a6a6", dash: null, name: "12/2013F" }
  ];
  series.forEach(s => {
    g.append("path").datum(dates.map((d, i) => [d, s.vals[i]])).attr("d", line)
      .attr("fill", "none").attr("stroke", s.stroke).attr("stroke-width", 2.7)
      .attr("stroke-dasharray", s.dash);
  });
  [1294, 1332, 1367].forEach((ly, i) => {
    g.append("line").attr("x1", 603).attr("x2", 688).attr("y1", ly).attr("y2", ly)
      .attr("stroke", series[i].stroke).attr("stroke-width", 2.7).attr("stroke-dasharray", series[i].dash);
    txt(698, ly + 10, series[i].name, NARROW, 29, { len: 109 });
  });
  txt(293, 1611, "MSCI AC World", NARROW, 29, { len: 184 });
})();

// shared helpers for the sector / country bar charts
function bandTicks(g, x0, x1, n, yPos) {
  const s = d3.scaleLinear().domain([0, n]).range([x0, x1]);
  styleAxis(g.append("g").attr("transform", `translate(0,${yPos})`)
    .call(d3.axisBottom(s).tickValues(d3.range(n + 1)).tickSize(10).tickSizeOuter(0).tickFormat("")), AXIS_GREY, 2.5, NARROW, 28);
}
function catLabels(g, xBand, cats, yTop) {
  cats.forEach(c => {
    g.append("text").attr("transform", `translate(${xBand(c) + xBand.bandwidth() / 2},${yTop}) rotate(-90)`)
      .attr("text-anchor", "end").attr("dy", "0.35em")
      .attr("font-family", ARIAL).attr("font-size", 26).attr("fill", "#000").text(c);
  });
}

// ================= Figure 57 =================
(function () {
  const x = d3.scaleBand().domain(sectors57).range([1101, 1716]);
  const y = d3.scaleLinear().domain([0, 30]).range([1531, 1287]);
  const g = svg.append("g");
  const bw = x.bandwidth();

  g.selectAll("rect.latest").data(sectors57).join("rect")
    .attr("x", d => x(d) + bw * 0.2).attr("width", bw * 0.32)
    .attr("y", (d, i) => y(latest57[i])).attr("height", (d, i) => y(0) - y(latest57[i]))
    .attr("fill", "#c6d9f1");
  g.selectAll("rect.ago").data(sectors57).join("rect")
    .attr("x", d => x(d) + bw * 0.52).attr("width", bw * 0.32)
    .attr("y", (d, i) => y(ago57[i])).attr("height", (d, i) => y(0) - y(ago57[i]))
    .attr("fill", "#1f4a7f");

  styleAxis(g.append("g").attr("transform", "translate(1101,0)")
    .call(d3.axisLeft(y).tickValues(ticks57).tickSize(8).tickSizeOuter(0).tickPadding(14)), AXIS_GREY, 2.5, NARROW, 28);
  styleAxis(g.append("g").attr("transform", "translate(1716,0)")
    .call(d3.axisRight(y).tickValues(ticks57).tickSize(8).tickSizeOuter(0).tickPadding(11)), AXIS_GREY, 2.5, NARROW, 28);
  bandTicks(g, 1101, 1716, sectors57.length, y(0));
  catLabels(g, x, sectors57, 1542);

  txt(1439, 1291, "12m fwd EPS growth (%)", NARROW, 29, { anchor: "middle", len: 298 });
  g.append("rect").attr("x", 1334).attr("y", 1317).attr("width", 16).attr("height", 17).attr("fill", "#c6d9f1");
  txt(1354, 1336, "Latest", NARROW, 29, { len: 78 });
  g.append("rect").attr("x", 1509).attr("y", 1317).attr("width", 16).attr("height", 17).attr("fill", "#1f4a7f");
  txt(1531, 1336, "1m Ago", NARROW, 29, { len: 91 });
})();

// ================= Figure 58 =================
(function () {
  const x = d3.scaleBand().domain(sectors58).range([243, 866]);
  const y = d3.scaleLinear().domain([-90, 30]).range([2169, 1926]);
  const g = svg.append("g");
  const bw = x.bandwidth();

  g.selectAll("rect.bar").data(sectors58).join("rect")
    .attr("x", d => x(d) + bw * 0.26).attr("width", bw * 0.48)
    .attr("y", (d, i) => y(Math.max(0, rev58[i]))).attr("height", (d, i) => Math.abs(y(rev58[i]) - y(0)))
    .attr("fill", "#4f81bd");

  styleAxis(g.append("g").attr("transform", "translate(243,0)")
    .call(d3.axisLeft(y).tickValues(ticks58).tickFormat(plain).tickSize(8).tickSizeOuter(0).tickPadding(14)), AXIS_GREY, 2.5, NARROW, 28);
  styleAxis(g.append("g").attr("transform", "translate(866,0)")
    .call(d3.axisRight(y).tickValues(ticks58).tickFormat(plain).tickSize(8).tickSizeOuter(0).tickPadding(15)), AXIS_GREY, 2.5, NARROW, 28);
  bandTicks(g, 243, 866, sectors58.length, y(0));
  catLabels(g, x, sectors58, 2178);

  g.append("rect").attr("x", 297).attr("y", 2106).attr("width", 16).attr("height", 16).attr("fill", "#4f81bd");
  txt(320, 2123, "1m EPS revisions (%)", NARROW, 29, { len: 255 });
})();

// ================= Figure 59 =================
(function () {
  const x = d3.scaleBand().domain(countries59).range([1096, 1721]);
  const y = d3.scaleLinear().domain([-80, 0]).range([2169, 1926]);
  const g = svg.append("g");
  const bw = x.bandwidth();

  g.selectAll("rect.bar").data(countries59).join("rect")
    .attr("x", d => x(d) + bw * 0.26).attr("width", bw * 0.48)
    .attr("y", y(0)).attr("height", (d, i) => y(rev59[i]) - y(0))
    .attr("fill", "#4f81bd");

  styleAxis(g.append("g").attr("transform", "translate(1096,0)")
    .call(d3.axisLeft(y).tickValues(ticks59).tickFormat(plain).tickSize(8).tickSizeOuter(0).tickPadding(14)), AXIS_GREY, 2.5, NARROW, 28);
  styleAxis(g.append("g").attr("transform", "translate(1721,0)")
    .call(d3.axisRight(y).tickValues(ticks59).tickFormat(plain).tickSize(8).tickSizeOuter(0).tickPadding(11)), AXIS_GREY, 2.5, NARROW, 28);
  bandTicks(g, 1096, 1721, countries59.length, y(0));
  catLabels(g, x, countries59, 2179);

  g.append("rect").attr("x", 1152).attr("y", 2072).attr("width", 17).attr("height", 16).attr("fill", "#4f81bd");
  txt(1175, 2088, "1m EPS revisions (%)", NARROW, 29, { len: 255 });
})();
</script>
</body>
</html>
